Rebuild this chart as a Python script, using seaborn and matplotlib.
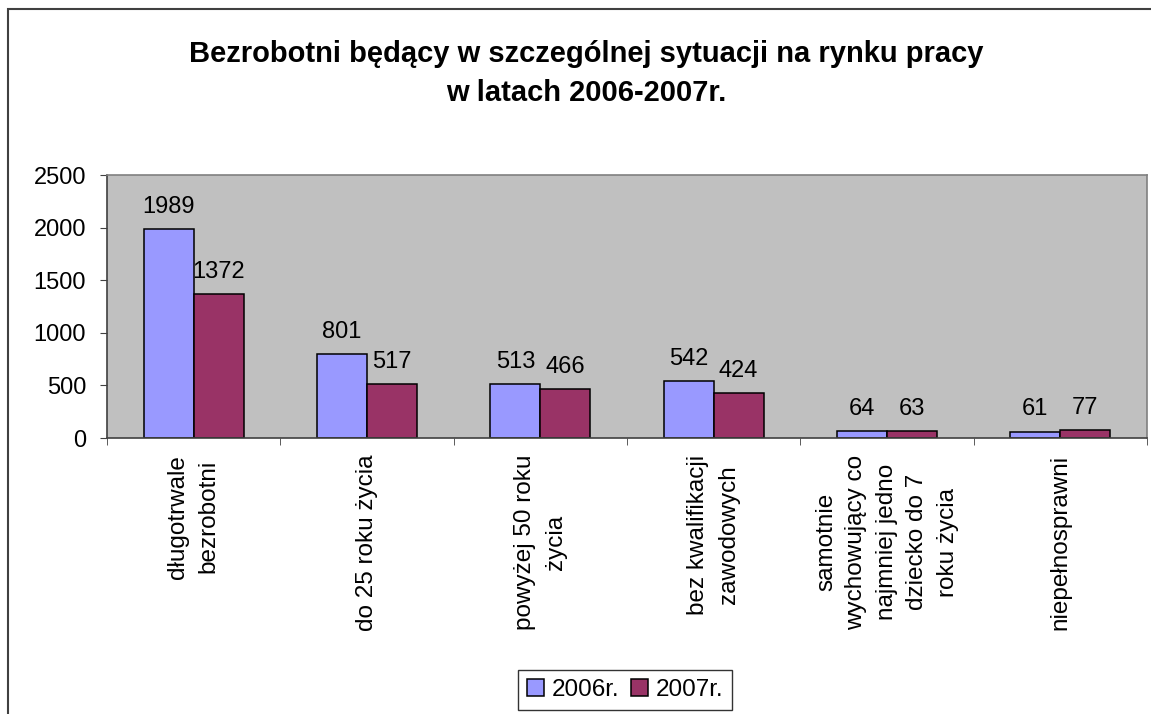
import matplotlib
matplotlib.use("Agg")
import matplotlib.pyplot as plt
import seaborn as sns
import pandas as pd
from matplotlib.patches import Rectangle

categories = [
    "długotrwale\nbezrobotni",
    "do 25 roku życia",
    "powyżej 50 roku\nżycia",
    "bez kwalifikacji\nzawodowych",
    "samotnie\nwychowujący co\nnajmniej jedno\ndziecko do 7\nroku życia",
    "niepełnosprawni",
]
years = ["2006r.", "2007r."]
values_2006 = [1989, 801, 513, 542, 64, 61]
values_2007 = [1372, 517, 466, 424, 63, 77]
colors = ["#9999FF", "#993366"]

df = pd.DataFrame({
    "kategoria": categories * 2,
    "rok": [years[0]] * len(categories) + [years[1]] * len(categories),
    "liczba": values_2006 + values_2007,
})

plt.rcParams["font.family"] = ["Liberation Sans", "DejaVu Sans"]

fig = plt.figure(figsize=(11.51, 7.14), dpi=100)
ax = fig.add_axes([107 / 1151, 1 - 438 / 714, 1040 / 1151, 263 / 714])

sns.barplot(data=df, x="kategoria", y="liczba", hue="rok", order=categories,
            hue_order=years, palette=colors, width=0.577, saturation=1,
            edgecolor="black", linewidth=1.1, ax=ax, legend=True)

for cont in ax.containers:
    ax.bar_label(cont, padding=8, fontsize=17)

ax.set_facecolor("#C0C0C0")
ax.set_ylim(0, 2500)
ax.set_yticks(range(0, 2501, 500))
ax.set_xlim(-0.5, len(categories) - 0.5)
ax.set_xlabel("")
ax.set_ylabel("")
ax.tick_params(axis="y", labelsize=17, length=5, pad=10, color="#404040")
ax.tick_params(axis="x", which="major", labelsize=17.5, length=0, pad=12)
ax.set_xticks([i - 0.5 for i in range(len(categories) + 1)], minor=True)
ax.tick_params(axis="x", which="minor", length=5, color="#404040")
plt.setp(ax.get_xticklabels(), rotation=90, ha="center", va="top",
         multialignment="center", linespacing=1.5)

for side in ["top", "right"]:
    ax.spines[side].set_color("#808080")
for side in ["bottom", "left"]:
    ax.spines[side].set_color("#404040")
for sp in ax.spines.values():
    sp.set_linewidth(1.2)

handles, labels = ax.get_legend_handles_labels()
ax.get_legend().remove()
leg = fig.legend(handles, labels, loc="center", bbox_to_anchor=(625 / 1151, 1 - 690 / 714),
                 ncol=2, fontsize=17.5, frameon=True, fancybox=False, edgecolor="black",
                 handlelength=0.7, handleheight=0.7, handletextpad=0.3, columnspacing=0.5,
                 borderpad=0.35, borderaxespad=0)
leg.get_frame().set_linewidth(1.0)

fig.text(586 / 1151, 1 - 40 / 714,
         "Bezrobotni będący w szczególnej sytuacji na rynku pracy\nw latach 2006-2007r.",
         ha="center", va="top", fontsize=21, fontweight="bold", linespacing=1.5)

fig.patches.append(Rectangle((8 / 1151, -0.5), 2, 0.5 + (1 - 9 / 714), transform=fig.transFigure,
                             fill=False, edgecolor="#404040", linewidth=1.5))

fig.savefig("out.png", dpi=100, facecolor="white")
